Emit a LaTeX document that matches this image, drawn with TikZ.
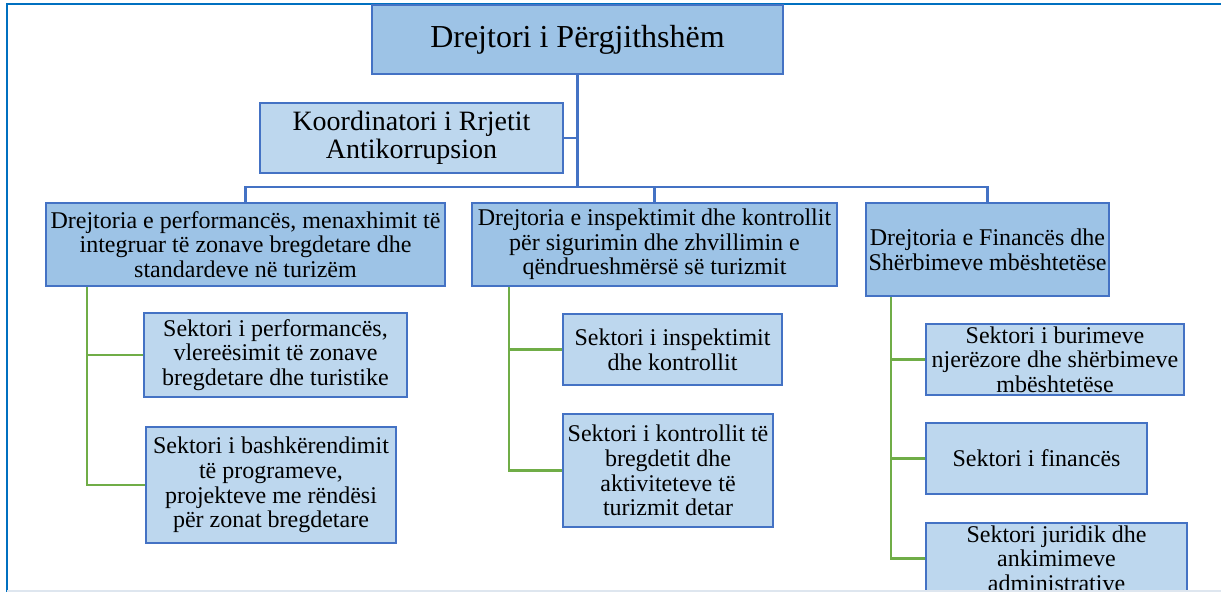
\documentclass[tikz,border=0pt]{standalone}
\usepackage{fontspec}
\setmainfont{Liberation Serif}
\usetikzlibrary{positioning}
\definecolor{dirblue}{HTML}{9DC3E6}
\definecolor{secblue}{HTML}{BDD7EE}
\definecolor{edgeblue}{HTML}{4472C4}
\definecolor{frameblue}{HTML}{0070C0}
\definecolor{pagegray}{HTML}{DEE6EF}
\definecolor{leafgreen}{HTML}{70AD47}

\begin{document}
\begin{tikzpicture}[x=0.75pt,y=-0.75pt,
  dirbox/.style={draw=edgeblue,fill=dirblue,line width=1.8pt,inner sep=0pt,align=center,font=\fontsize{18}{18.5}\selectfont},
  secbox/.style={dirbox,fill=secblue},
  blueline/.style={draw=edgeblue,line width=2pt},
  greenline/.style={draw=leafgreen,line width=2.2pt}]
\useasboundingbox (0,0) rectangle (1221,592);
\clip (0,0) rectangle (1221,592);
\fill[white] (0,0) rectangle (1221,592);
\draw[frameblue,line width=2pt] (7,600) -- (7,4) -- (1230,4);

% head and coordinator
\node[dirbox,minimum width=308.25pt,minimum height=51.75pt,font=\fontsize{24}{28}\selectfont] (gen) at (577.5,39.5) {Drejtori i Përgjithshëm};
\node[secbox,minimum width=227.25pt,minimum height=52.5pt,font=\fontsize{21}{21}\selectfont] (koord) at (411.5,138) {Koordinatori i Rrjetit\\Antikorrupsion};

% directorates
\node[dirbox,minimum width=299.25pt,minimum height=62.25pt] (dir1) at (245.5,244.5) {Drejtoria e performancës, menaxhimit të\\integruar të zonave bregdetare dhe\\standardeve në turizëm};
\node[dirbox,minimum width=273.75pt,minimum height=62.25pt] (dir2) at (654.5,244.5) {Drejtoria e inspektimit dhe kontrollit\\për sigurimin dhe zhvillimin e\\qëndrueshmërsë së turizmit};
\node[dirbox,minimum width=182.25pt,minimum height=69.75pt] (dir3) at (987.5,249.5) {Drejtoria e Financës dhe\\Shërbimeve mbështetëse};

% sectors
\node[secbox,minimum width=197.25pt,minimum height=63pt] (sec1a) at (275.5,355) {Sektori i performancës,\\vlereësimit të zonave\\bregdetare dhe turistike};
\node[secbox,minimum width=187.5pt,minimum height=87pt] (sec1b) at (271,485) {Sektori i bashkërendimit\\të programeve,\\projekteve me rëndësi\\për zonat bregdetare};
\node[secbox,minimum width=164.25pt,minimum height=53.25pt] (sec2a) at (672.5,349.5) {Sektori i inspektimit\\dhe kontrollit};
\node[secbox,minimum width=157.5pt,minimum height=84.75pt] (sec2b) at (668,470.5) {Sektori i kontrollit të\\bregdetit dhe\\aktiviteteve të\\turizmit detar};
\node[secbox,minimum width=193.5pt,minimum height=53.25pt] (sec3a) at (1055,359.5) {Sektori i burimeve\\njerëzore dhe shërbimeve\\mbështetëse};
\node[secbox,minimum width=165.75pt,minimum height=53.25pt] (sec3b) at (1036.5,458.5) {Sektori i financës};
\node[secbox,minimum width=195.75pt,minimum height=53.25pt] (sec3c) at (1056.5,558.5) {Sektori juridik dhe\\ankimimeve\\administrative};

% blue connectors
\coordinate (bus) at (577.5,187);
\draw[blueline] (gen.south) -- (gen.south |- bus);
\draw[blueline] (koord.east) -- (koord.east -| gen.south);
\draw[blueline] (dir1.north) |- (dir3.north |- bus) -- (dir3.north);
\draw[blueline] (dir2.north) -- (dir2.north |- bus);

% green branches
\coordinate (g1) at (87,0);
\coordinate (g2) at (509,0);
\coordinate (g3) at (891,0);
\draw[greenline] (dir1.south -| g1) |- (sec1b.west);
\draw[greenline] (sec1a.west -| g1) -- (sec1a.west);
\draw[greenline] (dir2.south -| g2) |- (sec2b.west);
\draw[greenline] (sec2a.west -| g2) -- (sec2a.west);
\draw[greenline] (dir3.south -| g3) |- (sec3c.west);
\draw[greenline] (sec3a.west -| g3) -- (sec3a.west);
\draw[greenline] (sec3b.west -| g3) -- (sec3b.west);

\draw[pagegray,line width=1pt] (7,591) -- (1221,591);
\end{tikzpicture}
\end{document}
